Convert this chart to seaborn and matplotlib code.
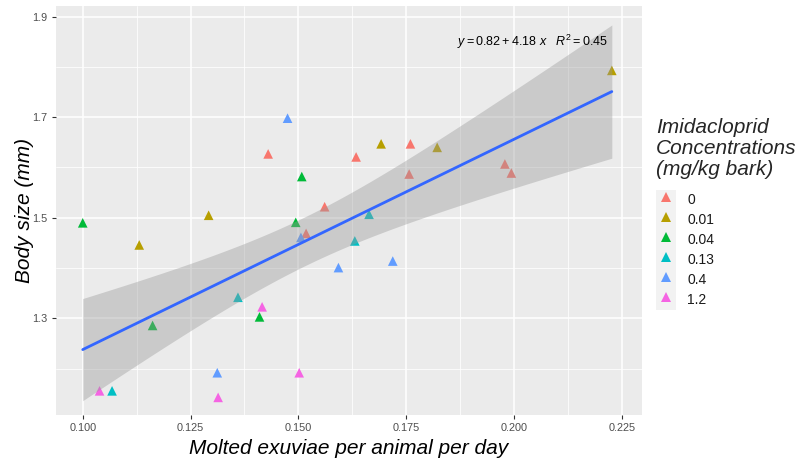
import numpy as np
import pandas as pd
import matplotlib
matplotlib.use("Agg")
import matplotlib.pyplot as plt
import seaborn as sns
from matplotlib.lines import Line2D
from matplotlib.patches import Rectangle
from matplotlib.legend_handler import HandlerTuple
from matplotlib.ticker import MultipleLocator, FormatStrFormatter

# Concentration levels (mg/kg bark) and their colours
levels = ["0", "0.01", "0.04", "0.13", "0.4", "1.2"]
palette = ["#F8766D", "#B79F00", "#00BA38", "#00BFC4", "#619CFF", "#F564E3"]

# Molted exuviae per animal per day / body size (mm), per concentration
exuviae_0 = [0.1430, 0.1634, 0.1760, 0.1757, 0.1979, 0.1994, 0.1561, 0.1518]
body_0 = [1.627, 1.621, 1.647, 1.587, 1.607, 1.589, 1.522, 1.469]

exuviae_001 = [0.1292, 0.1131, 0.1692, 0.1822, 0.2227]
body_001 = [1.505, 1.446, 1.647, 1.640, 1.793]

exuviae_004 = [0.1000, 0.1508, 0.1494, 0.1162, 0.1410]
body_004 = [1.490, 1.582, 1.491, 1.286, 1.303]

exuviae_013 = [0.1360, 0.1068, 0.1664, 0.1631]
body_013 = [1.342, 1.156, 1.507, 1.454]

exuviae_04 = [0.1475, 0.1506, 0.1593, 0.1719, 0.1312]
body_04 = [1.698, 1.461, 1.401, 1.414, 1.192]

exuviae_12 = [0.1039, 0.1314, 0.1502, 0.1416]
body_12 = [1.156, 1.143, 1.192, 1.323]

# Linear model reported on the chart
fit_intercept = 0.82
fit_slope = 4.18
fit_r2 = 0.45

groups = [
    ("0", exuviae_0, body_0),
    ("0.01", exuviae_001, body_001),
    ("0.04", exuviae_004, body_004),
    ("0.13", exuviae_013, body_013),
    ("0.4", exuviae_04, body_04),
    ("1.2", exuviae_12, body_12),
]
df = pd.concat(
    [pd.DataFrame({"exuviae": xs, "body": ys, "conc": lvl}) for lvl, xs, ys in groups],
    ignore_index=True,
)
df["conc"] = pd.Categorical(df["conc"], categories=levels, ordered=True)

sns.set_style("darkgrid")
plt.rcParams["font.family"] = ["Liberation Sans", "DejaVu Sans"]
plt.rcParams["mathtext.fontset"] = "custom"
plt.rcParams["mathtext.rm"] = "Liberation Sans"
plt.rcParams["mathtext.it"] = "Liberation Sans:italic"

fig = plt.figure(figsize=(8.05, 4.61), dpi=100)
ax = fig.add_axes([56 / 805, 1 - 415 / 461, (642 - 56) / 805, (415 - 6) / 461])
ax.set_facecolor("#EBEBEB")
for s in ax.spines.values():
    s.set_visible(False)

# points
sns.scatterplot(data=df, x="exuviae", y="body", hue="conc", hue_order=levels,
                palette=palette, marker="^", s=48, linewidth=0, legend=False,
                ax=ax, zorder=2)

# fitted line with 95% confidence band
x = df["exuviae"].to_numpy()
y = df["body"].to_numpy()
n = len(x)
resid = y - (fit_intercept + fit_slope * x)
s_err = np.sqrt(np.sum(resid ** 2) / (n - 2))
xg = np.linspace(x.min(), x.max(), 80)
yg = fit_intercept + fit_slope * xg
t_crit = 2.045  # t(0.975, df=29)
half = t_crit * s_err * np.sqrt(1 / n + (xg - x.mean()) ** 2 / np.sum((x - x.mean()) ** 2))
ax.fill_between(xg, yg - half, yg + half, color="#999999", alpha=0.4, linewidth=0, zorder=3)
sns.lineplot(x=xg, y=yg, color="#3366FF", lw=2.0, zorder=4, ax=ax)

ax.text(0.942, 0.935,
        rf"$y = {fit_intercept:.2f} + {fit_slope:.2f}\ x$" + "   " + rf"$R^2 = {fit_r2:.2f}$",
        transform=ax.transAxes, ha="right", va="top", fontsize=9, color="black", zorder=5)

# scales
ax.set_xlim(0.0938, 0.2297)
ax.set_ylim(1.108, 1.921)
ax.xaxis.set_major_locator(MultipleLocator(0.025))
ax.xaxis.set_minor_locator(MultipleLocator(0.0125))
ax.set_yticks([1.3, 1.5, 1.7, 1.9])
ax.set_yticks([1.2, 1.4, 1.6, 1.8], minor=True)
ax.xaxis.set_major_formatter(FormatStrFormatter("%.3f"))
ax.yaxis.set_major_formatter(FormatStrFormatter("%.1f"))
ax.grid(which="major", color="white", linewidth=1.1)
ax.grid(which="minor", color="white", linewidth=0.55)
ax.set_axisbelow(True)
ax.tick_params(which="major", length=3, width=0.8, color="#333333",
               labelsize=7.8, labelcolor="#4D4D4D", pad=3, bottom=True, left=True)
ax.tick_params(which="minor", length=0)

ax.set_xlabel("Molted exuviae per animal per day", fontsize=15, style="italic",
              color="black", labelpad=4)
ax.set_ylabel("Body size (mm)", fontsize=15, style="italic", color="black", labelpad=-1)

# legend with grey key backgrounds
handles = []
for c in palette:
    bg = Rectangle((0, 0), 1, 1, facecolor="#F2F2F2", edgecolor="none")
    mk = Line2D([], [], marker="^", linestyle="none", color=c, markersize=6.5,
                markeredgewidth=0)
    handles.append((bg, mk))
leg = fig.legend(handles, levels, loc="upper left",
                 bbox_to_anchor=(656 / 805, 1 - 118 / 461),
                 handler_map={tuple: HandlerTuple(ndivide=1, pad=0)},
                 title="Imidacloprid\nConcentrations\n(mg/kg bark)",
                 title_fontproperties={"size": 15, "style": "italic"},
                 alignment="left", frameon=False, fontsize=10,
                 handlelength=1.44, handleheight=1.84, labelspacing=0,
                 handletextpad=0.8, borderpad=0, borderaxespad=0)
leg.get_title().set_linespacing(1.12)
leg._legend_box.sep = 8  # gap between title and keys (points)
for t in leg.get_texts():
    t.set_color("#1A1A1A")

fig.savefig("out.png", dpi=100, facecolor="white")
